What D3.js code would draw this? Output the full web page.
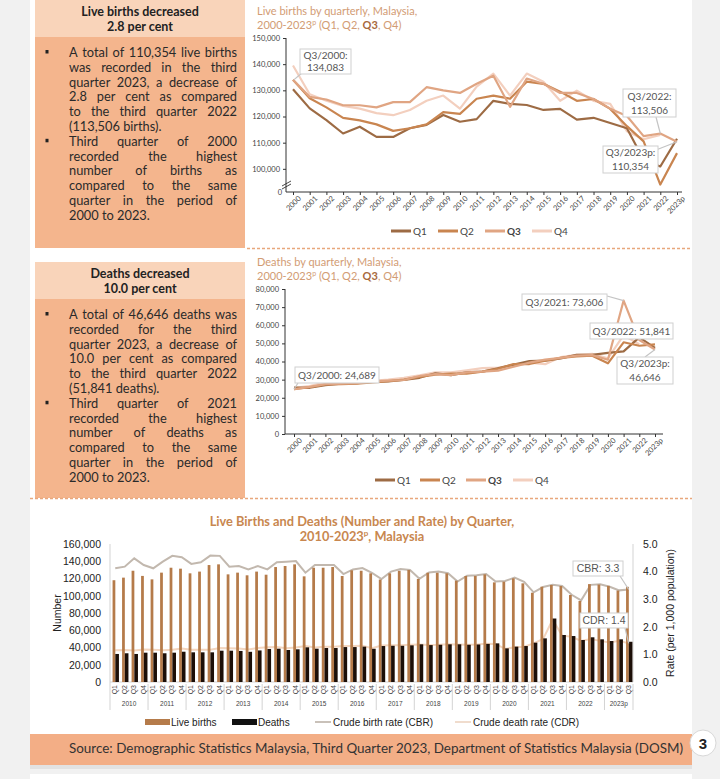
<!DOCTYPE html>
<html><head><meta charset="utf-8">
<script src="https://cdn.jsdelivr.net/npm/d3@7"></script>
<style>body{margin:0;background:#f1f1f1;} svg{display:block;}</style>
</head><body>
<svg id="c" width="720" height="779"></svg>
<script>
// ---------------- DATA ----------------
const years = ["2000","2001","2002","2003","2004","2005","2006","2007","2008","2009","2010","2011","2012","2013","2014","2015","2016","2017","2018","2019","2020","2021","2022","2023p"];
const quarterNames = ["Q1","Q2","Q3","Q4"];

const birthsQ1 = [130400,123100,118600,113500,116100,112200,112200,115500,116800,120600,118000,119000,126000,124800,124400,122500,122900,118800,119500,117500,115500,103500,100900,111500];
const birthsQ2 = [134000,127000,123500,119500,118500,117000,114500,115500,117000,121700,121000,126800,128000,126800,133300,132500,129500,126000,126700,122900,116300,110500,94000,106000];
const birthsQ3 = [134083,127500,126500,124300,124300,123500,125500,125500,131200,130000,129000,132500,135600,123700,134500,132500,129000,129000,126700,123000,120200,112500,113506,110354];
const birthsQ4 = [139500,128500,126000,124000,123000,121300,120500,122500,126000,128000,123000,131400,136400,128000,136400,133300,126000,129900,126000,124800,114400,111300,113000,null];

const deathsQ1 = [25600,25500,27000,27800,28000,28800,29000,29800,31000,33500,32500,34000,34400,36300,38300,40200,40500,41700,43700,43700,44800,45600,53300,47500];
const deathsQ2 = [24800,25800,27300,27500,27800,28500,29200,30000,31500,32800,33300,33300,34400,36000,38600,38600,40500,42000,42800,43200,39000,50600,48700,49500];
const deathsQ3 = [24689,26000,27500,27800,28000,29000,29400,29800,32000,33000,32500,34000,34400,35000,37100,39400,41000,42000,43200,43500,41000,73606,51841,46646];
const deathsQ4 = [25500,26500,28500,28300,28600,29300,30000,31000,32400,34000,34000,35100,36300,36600,37900,39400,38500,42500,43700,44200,41700,54500,49500,null];

const birthTicks = [100000,110000,120000,130000,140000,150000];
const deathTicks = [0,10000,20000,30000,40000,50000,60000,70000,80000];

// bottom chart (2010 Q1 – 2023 Q3)
const periodYears = ["2010","2011","2012","2013","2014","2015","2016","2017","2018","2019","2020","2021","2022","2023p"];
const liveBirths = [118000,121000,129000,123000, 119000,126800,132500,131400, 126000,128000,135600,136400, 124800,126800,123700,128000,
  124400,133300,134500,136400, 122500,132500,132500,133300, 122900,129500,129000,126000, 118800,126000,129000,129900,
  119500,126700,126700,126000, 117500,122900,123000,124800, 115500,116300,120200,114400, 103500,110500,112500,111300,
  100900,94000,113506,113000, 111500,106000,110354];
const deathsQ = [32500,33300,32500,34000, 34000,33300,34000,35100, 34400,34400,34400,36300, 36300,36000,35000,36600,
  38300,38600,37100,37900, 40200,38600,39400,39400, 40500,40500,41000,38500, 41700,42000,42000,42500,
  43700,42800,43200,43700, 43700,43200,43500,44200, 44800,39000,41000,41700, 45600,50600,73606,54500,
  53300,48700,51841,49500, 47500,49500,46646];
const cbr = [4.12,4.18,4.48,4.24, 4.12,4.36,4.57,4.52, 4.28,4.34,4.58,4.57, 4.18,4.2,4.08,4.2,
  4.08,4.34,4.36,4.38, 3.96,4.24,4.24,4.24, 3.91,4.08,4.13,3.95, 3.73,4.0,4.09,4.06,
  3.74,3.97,4.0,3.94, 3.64,3.85,3.87,3.91, 3.64,3.66,3.78,3.63, 3.25,3.44,3.52,3.48,
  3.16,2.96,3.52,3.54, 3.45,3.32,3.35];
const cdr = [1.15,1.16,1.14,1.18, 1.17,1.15,1.17,1.21, 1.17,1.17,1.17,1.23, 1.22,1.21,1.18,1.23,
  1.26,1.27,1.22,1.25, 1.3,1.25,1.28,1.28, 1.3,1.3,1.31,1.22, 1.32,1.33,1.33,1.35,
  1.36,1.34,1.35,1.37, 1.36,1.35,1.36,1.39, 1.38,1.2,1.26,1.28, 1.4,1.56,2.26,1.68,
  1.64,1.49,1.56,1.49, 1.43,1.49,1.4];
const numberTicks = [0,20000,40000,60000,80000,100000,120000,140000,160000];
const rateTicks = [0,1,2,3,4,5];

// ---------------- STYLE ----------------
const qColors = ["#9d6b44","#c98550","#e0a583","#f3cfbe"];
const FONT = "Lato, 'Open Sans', sans-serif";
const ARIAL = "'Liberation Sans', Arial, sans-serif";
const BODY_FS = 12.8;
const svg = d3.select("#c");

svg.append("rect").attr("width",720).attr("height",779).attr("fill","#f1f1f1");
svg.append("rect").attr("x",30).attr("y",0).attr("width",662).attr("height",766).attr("fill","#fff");
svg.append("rect").attr("x",30).attr("y",774).attr("width",662).attr("height",5).attr("fill","#fff");

// ---------- text boxes ----------
const measurer = svg.append("text").attr("font-family",FONT).attr("font-size",BODY_FS).attr("x",-999).attr("y",-999);
function mw(t){ measurer.text(t); return measurer.node().getComputedTextLength(); }

function textBox(y0, h, header, lines){
  const g = svg.append("g");
  g.append("rect").attr("x",35).attr("y",y0).attr("width",210).attr("height",h).attr("fill","#f4b58d");
  g.append("rect").attr("x",35).attr("y",y0).attr("width",210).attr("height",37).attr("fill","#f9d4ba");
  header.forEach((t,i)=> g.append("text").attr("x",140).attr("y",y0+15.5+i*15).attr("text-anchor","middle")
    .attr("font-family",FONT).attr("font-weight","bold").attr("font-size",12.5).attr("fill","#222").text(t));
  const x0 = 69, x1 = 237, lh = 14.8, by = y0 + 57;
  lines.forEach((ln,i)=>{
    const y = by + i*lh;
    if(ln.b) g.append("rect").attr("x",45.5).attr("y",y-7).attr("width",3).attr("height",3.5).attr("fill","#222");
    if(!ln.j){
      g.append("text").attr("x",x0).attr("y",y).attr("font-family",FONT).attr("font-size",BODY_FS).attr("fill","#2a2a2a").text(ln.t);
      return;
    }
    const words = ln.t.split(/\s+/);
    const ws = words.map(mw);
    const gap = (x1-x0-d3.sum(ws))/(words.length-1);
    let x = x0;
    words.forEach((w,k)=>{
      g.append("text").attr("x",x).attr("y",y).attr("font-family",FONT).attr("font-size",BODY_FS).attr("fill","#2a2a2a").text(w);
      x += ws[k]+gap;
    });
  });
}
textBox(0, 248, ["Live births decreased","2.8 per cent"], [
  {t:"A total of 110,354 live births", j:1, b:1},
  {t:"was recorded in the third", j:1},
  {t:"quarter 2023, a decrease of", j:1},
  {t:"2.8 per cent as compared", j:1},
  {t:"to the third quarter 2022", j:1},
  {t:"(113,506 births).", j:0},
  {t:"Third quarter of 2000", j:1, b:1},
  {t:"recorded the highest", j:1},
  {t:"number of births as", j:1},
  {t:"compared to the same", j:1},
  {t:"quarter in the period of", j:1},
  {t:"2000 to 2023.", j:0}
]);
textBox(262, 236, ["Deaths decreased","10.0 per cent"], [
  {t:"A total of 46,646 deaths was", j:1, b:1},
  {t:"recorded for the third", j:1},
  {t:"quarter 2023, a decrease of", j:1},
  {t:"10.0 per cent as compared", j:1},
  {t:"to the third quarter 2022", j:1},
  {t:"(51,841 deaths).", j:0},
  {t:"Third quarter of 2021", j:1, b:1},
  {t:"recorded the highest", j:1},
  {t:"number of deaths as", j:1},
  {t:"compared to the same", j:1},
  {t:"quarter in the period of", j:1},
  {t:"2000 to 2023.", j:0}
]);
measurer.remove();

// dashed separators
svg.append("line").attr("x1",247).attr("x2",692).attr("y1",248.5).attr("y2",248.5).attr("stroke","#e8a77c").attr("stroke-width",1.3).attr("stroke-dasharray","3,2");
svg.append("line").attr("x1",30).attr("x2",692).attr("y1",498.5).attr("y2",498.5).attr("stroke","#e8a77c").attr("stroke-width",1.3).attr("stroke-dasharray","3,2");

// ---------- helpers ----------
function quarterTitle(x, y, first){
  svg.append("text").attr("x",x).attr("y",y).attr("font-family",FONT).attr("font-size",11).attr("fill","#d29c74").text(first);
  const t2 = svg.append("text").attr("x",x).attr("y",y+13.5).attr("font-family",FONT).attr("font-size",11).attr("fill","#d29c74");
  t2.append("tspan").text("2000-2023");
  t2.append("tspan").attr("font-size",7).attr("dy",-4).text("p");
  t2.append("tspan").attr("dy",4).text(" (Q1, Q2, ");
  t2.append("tspan").attr("font-weight","bold").attr("fill","#a86a3e").text("Q3");
  t2.append("tspan").text(", Q4)");
}
function annot(lines, bx, by, bw, bh, px, py, lx, ly, fs){
  svg.append("line").attr("x1",lx).attr("y1",ly).attr("x2",px).attr("y2",py).attr("stroke","#c4c4c4").attr("stroke-width",1.2);
  svg.append("rect").attr("x",bx).attr("y",by).attr("width",bw).attr("height",bh).attr("fill","#fff").attr("stroke","#cfcfcf").attr("stroke-width",1);
  lines.forEach((t,i)=> svg.append("text").attr("x",bx+bw/2).attr("y",by+ (bh/lines.length)*(i+0.5)+3.5)
    .attr("text-anchor","middle").attr("font-family",fs?ARIAL:FONT).attr("font-size",fs||10).attr("fill","#555").text(t));
}
function quarterLegend(y, xs){
  quarterNames.forEach((q,i)=>{
    svg.append("line").attr("x1",xs[i]).attr("x2",xs[i]+20).attr("y1",y).attr("y2",y).attr("stroke",qColors[i]).attr("stroke-width",3);
    svg.append("text").attr("x",xs[i]+22).attr("y",y+3.5).attr("font-family",FONT).attr("font-size",10)
      .attr("font-weight",i===2?"bold":"normal").attr("fill","#444").text(q);
  });
}
function styleAxisText(g, fs){
  g.selectAll("text").attr("font-family",FONT).attr("font-size",fs).attr("fill","#444");
  g.selectAll(".tick line").attr("stroke","#333");
}

// ---------- Chart 1: live births by quarter ----------
{
  quarterTitle(257, 15, "Live births by quarterly, Malaysia,");
  const x = d3.scalePoint().domain(years).range([293,677]);
  const y = d3.scaleLinear().domain([91150,150000]).range([192,38]);
  svg.append("line").attr("x1",286).attr("x2",286).attr("y1",38).attr("y2",192).attr("stroke","#333");
  svg.append("line").attr("x1",286).attr("x2",682).attr("y1",192).attr("y2",192).attr("stroke","#333");
  const ya = svg.append("g").attr("transform","translate(286,0)")
    .call(d3.axisLeft(y).tickValues(birthTicks).tickFormat(d3.format(",")).tickSize(3));
  ya.select(".domain").remove(); styleAxisText(ya, 7.5);
  svg.append("text").attr("x",282).attr("y",194.5).attr("text-anchor","end").attr("font-family",FONT).attr("font-size",7.5).attr("fill","#444").text("0");
  [0,3].forEach(o=> svg.append("line").attr("x1",282).attr("x2",291).attr("y1",189-o).attr("y2",184-o).attr("stroke","#333").attr("stroke-width",0.9));
  const xa = svg.append("g").attr("transform","translate(0,192)").call(d3.axisBottom(x).tickSize(3));
  xa.select(".domain").remove(); styleAxisText(xa, 7.5);
  xa.selectAll("text").attr("text-anchor","end").attr("transform","translate(4,3) rotate(-45)").attr("dy","0.35em").attr("y",3);
  const series = [birthsQ1,birthsQ2,birthsQ3,birthsQ4];
  const line = d3.line().defined(d=>d!=null).x((d,i)=>x(years[i])).y(d=>y(d));
  [3,0,1,2].forEach(k=> svg.append("path").attr("d",line(series[k])).attr("fill","none").attr("stroke",qColors[k]).attr("stroke-width",2.2).attr("stroke-linejoin","round"));
  annot(["Q3/2000:","134,083"], 300, 49, 51, 25, x("2000")+1, y(birthsQ3[0]), 302, 73);
  annot(["Q3/2022:","113,506"], 623, 89, 53, 28, x("2022"), y(birthsQ3[22]), 656, 117);
  annot(["Q3/2023p:","110,354"], 603, 146, 55, 27, x("2023p"), y(birthsQ3[23]), 656, 150);
  quarterLegend(231, [391, 438, 485, 532]);
}

// ---------- Chart 2: deaths by quarter ----------
{
  quarterTitle(257, 266, "Deaths by quarterly, Malaysia,");
  const x = d3.scalePoint().domain(years).range([294,655]);
  const y = d3.scaleLinear().domain([0,80000]).range([434,289]);
  svg.append("line").attr("x1",285).attr("x2",285).attr("y1",289).attr("y2",434).attr("stroke","#333");
  svg.append("line").attr("x1",285).attr("x2",663).attr("y1",434).attr("y2",434).attr("stroke","#333");
  const ya = svg.append("g").attr("transform","translate(285,0)")
    .call(d3.axisLeft(y).tickValues(deathTicks).tickFormat(d3.format(",")).tickSize(3));
  ya.select(".domain").remove(); styleAxisText(ya, 7.5);
  const xa = svg.append("g").attr("transform","translate(0,434)").call(d3.axisBottom(x).tickSize(3));
  xa.select(".domain").remove(); styleAxisText(xa, 7.5);
  xa.selectAll("text").attr("text-anchor","end").attr("transform","translate(4,3) rotate(-45)").attr("dy","0.35em").attr("y",3);
  const series = [deathsQ1,deathsQ2,deathsQ3,deathsQ4];
  const line = d3.line().defined(d=>d!=null).x((d,i)=>x(years[i])).y(d=>y(d));
  [3,0,1,2].forEach(k=> svg.append("path").attr("d",line(series[k])).attr("fill","none").attr("stroke",qColors[k]).attr("stroke-width",2.2).attr("stroke-linejoin","round"));
  annot(["Q3/2000: 24,689"], 295, 367, 84, 16, x("2000"), y(deathsQ3[0]), 298, 383);
  annot(["Q3/2021: 73,606"], 522, 294, 85, 16, x("2021"), y(deathsQ3[21]), 607, 296);
  annot(["Q3/2022: 51,841"], 590, 323, 83, 16, x("2022"), y(deathsQ3[22]), 640, 339);
  annot(["Q3/2023p:","46,646"], 617, 357, 56, 27, x("2023p"), y(deathsQ3[23]), 645, 357);
  quarterLegend(480, [375, 420, 466, 513]);
}

// ---------- Chart 3: live births & deaths by quarter 2010-2023 ----------
{
  svg.append("text").attr("x",362).attr("y",526).attr("text-anchor","middle").attr("font-family",FONT)
    .attr("font-weight","bold").attr("font-size",12.8).attr("fill","#c8874f").text("Live Births and Deaths (Number and Rate) by Quarter,");
  const t2 = svg.append("text").attr("x",362).attr("y",541).attr("text-anchor","middle").attr("font-family",FONT)
    .attr("font-weight","bold").attr("font-size",12.8).attr("fill","#c8874f");
  t2.append("tspan").text("2010-2023");
  t2.append("tspan").attr("font-size",8).attr("dy",-5).text("p");
  t2.append("tspan").attr("dy",5).text(", Malaysia");

  const periods = [];
  periodYears.forEach(yv=> quarterNames.forEach(q=>{ if(periods.length<liveBirths.length) periods.push({year:yv,q:q}); }));
  const x = d3.scaleBand().domain(d3.range(periods.length)).range([110,633]);
  const yN = d3.scaleLinear().domain([0,160000]).range([682,544]);
  const yR = d3.scaleLinear().domain([0,5]).range([682,544]);
  const bw = x.bandwidth();

  svg.append("line").attr("x1",110).attr("x2",110).attr("y1",544).attr("y2",682).attr("stroke","#d3d3d3");
  svg.append("line").attr("x1",633).attr("x2",633).attr("y1",544).attr("y2",682).attr("stroke","#d3d3d3");
  svg.append("line").attr("x1",110).attr("x2",633).attr("y1",682).attr("y2",682).attr("stroke","#d3d3d3");

  const yl = svg.append("g").attr("transform","translate(104,0)").call(d3.axisLeft(yN).tickValues(numberTicks).tickFormat(d3.format(",")).tickSize(0));
  yl.select(".domain").remove();
  yl.selectAll("text").attr("font-family",ARIAL).attr("font-size",10.5).attr("fill","#222");
  const yr = svg.append("g").attr("transform","translate(640,0)").call(d3.axisRight(yR).tickValues(rateTicks).tickFormat(d3.format(".1f")).tickSize(0));
  yr.select(".domain").remove();
  yr.selectAll("text").attr("font-family",ARIAL).attr("font-size",10.5).attr("fill","#222");
  svg.append("text").attr("transform","translate(61,613) rotate(-90)").attr("text-anchor","middle").attr("font-family",ARIAL).attr("font-size",10.5).attr("fill","#222").text("Number");
  svg.append("text").attr("transform","translate(674,613) rotate(-90)").attr("text-anchor","middle").attr("font-family",ARIAL).attr("font-size",10.5).attr("fill","#222").text("Rate (per 1,000 population)");

  // rate lines (behind bars)
  const cx = i=> x(i)+bw*0.55;
  svg.append("path").attr("d",d3.line().x((d,i)=>cx(i)).y(d=>yR(d))(cbr)).attr("fill","none").attr("stroke","#c2b8ae").attr("stroke-width",2);
  svg.append("path").attr("d",d3.line().x((d,i)=>cx(i)).y(d=>yR(d))(cdr)).attr("fill","none").attr("stroke","#f3d6c0").attr("stroke-width",2);
  // bars
  svg.append("g").selectAll("rect").data(liveBirths).join("rect")
    .attr("x",(d,i)=>x(i)+bw*0.27).attr("width",bw*0.29).attr("y",d=>yN(d)).attr("height",d=>682-yN(d)).attr("fill","#b57b4a");
  svg.append("g").selectAll("rect").data(deathsQ).join("rect")
    .attr("x",(d,i)=>x(i)+bw*0.56).attr("width",bw*0.38).attr("y",d=>yN(d)).attr("height",d=>682-yN(d)).attr("fill","#1c0f08");

  // quarter labels
  svg.append("g").selectAll("text").data(periods).join("text")
    .attr("transform",(d,i)=>`translate(${x(i)+bw/2+2.5},685) rotate(-90)`).attr("text-anchor","end")
    .attr("font-family",ARIAL).attr("font-size",7).attr("fill","#444").text(d=>d.q);
  const groups = d3.groups(periods.map((p,i)=>({...p,i})), d=>d.year);
  groups.forEach(([yv, arr])=>{
    const a = x(arr[0].i), b = x(arr[arr.length-1].i)+bw;
    svg.append("text").attr("x",(a+b)/2).attr("y",706).attr("text-anchor","middle").attr("font-family",ARIAL).attr("font-size",6.5).attr("fill","#444").text(yv);
    svg.append("line").attr("x1",b).attr("x2",b).attr("y1",684).attr("y2",710).attr("stroke","#d3d3d3");
  });
  svg.append("line").attr("x1",110).attr("x2",110).attr("y1",682).attr("y2",710).attr("stroke","#d3d3d3");

  const last = liveBirths.length-1;
  annot(["CBR:  3.3"], 573, 561, 50, 15, cx(last), yR(cbr[last]), 620, 576, 10.5);
  annot(["CDR:  1.4"], 580, 613, 48, 15, cx(last), yR(cdr[last]), 625, 628, 10.5);

  // legend
  const ly = 722;
  svg.append("rect").attr("x",145).attr("y",ly-3).attr("width",25).attr("height",6).attr("fill","#b57b4a");
  svg.append("text").attr("x",171).attr("y",ly+3.5).attr("font-family",ARIAL).attr("font-size",10).attr("fill","#222").text("Live births");
  svg.append("rect").attr("x",232).attr("y",ly-3).attr("width",25).attr("height",6).attr("fill","#111");
  svg.append("text").attr("x",258).attr("y",ly+3.5).attr("font-family",ARIAL).attr("font-size",10).attr("fill","#222").text("Deaths");
  svg.append("line").attr("x1",315).attr("x2",331).attr("y1",ly).attr("y2",ly).attr("stroke","#c9c1b9").attr("stroke-width",2);
  svg.append("text").attr("x",333).attr("y",ly+3.5).attr("font-family",ARIAL).attr("font-size",10).attr("fill","#222").text("Crude birth rate (CBR)");
  svg.append("line").attr("x1",455).attr("x2",471).attr("y1",ly).attr("y2",ly).attr("stroke","#f0dccd").attr("stroke-width",2);
  svg.append("text").attr("x",473).attr("y",ly+3.5).attr("font-family",ARIAL).attr("font-size",10).attr("fill","#222").text("Crude death rate (CDR)");
}

// ---------- footer ----------
svg.append("rect").attr("x",30).attr("y",765).attr("width",662).attr("height",4).attr("fill","#e2e2e2");
svg.append("rect").attr("x",30).attr("y",734).attr("width",662).attr("height",31).attr("fill","#f3ae86");
svg.append("text").attr("x",376).attr("y",752.5).attr("text-anchor","middle").attr("font-family",FONT).attr("font-size",12.5)
  .attr("fill","#333").attr("textLength",614).attr("lengthAdjust","spacingAndGlyphs")
  .text("Source: Demographic Statistics Malaysia, Third Quarter 2023, Department of Statistics Malaysia (DOSM)");
svg.append("circle").attr("cx",703).attr("cy",743).attr("r",13).attr("fill","#fff").attr("stroke","#d8d8d8");
svg.append("text").attr("x",703).attr("y",748.5).attr("text-anchor","middle").attr("font-family",ARIAL).attr("font-weight","bold").attr("font-size",15).attr("fill","#222").text("3");
</script>
</body></html>
